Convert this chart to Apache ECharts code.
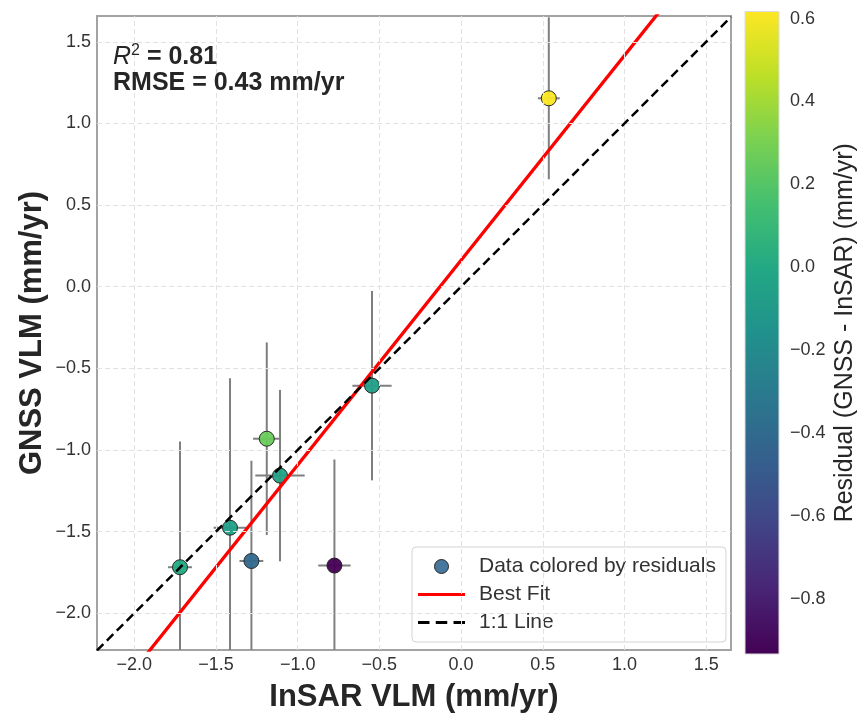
<!DOCTYPE html>
<html>
<head>
<meta charset="utf-8">
<script src="https://cdn.jsdelivr.net/npm/echarts@6/dist/echarts.min.js"></script>
<style>
  html, body { margin: 0; padding: 0; background: #fff; }
  #chart { width: 861px; height: 717px; }
</style>
</head>
<body>
<div id="chart"></div>
<script>
// station values (mm/yr)
const insar    = [-1.72, -1.414, -1.283, -1.189, -1.108, -0.775, -0.545, 0.537];
const gnss     = [-1.718, -1.476, -1.68, -0.931, -1.157, -1.708, -0.606, 1.154];
const insarErr = [0.073, 0.10, 0.073, 0.084, 0.151, 0.099, 0.12, 0.067];
const gnssErr  = [0.77, 0.915, 0.614, 0.59, 0.525, 0.65, 0.58, 0.496];

// best fit line + stats shown on the plot
const fitSlope = 1.254;
const fitIntercept = 0.162;
const r2Text = '0.81';
const rmseText = '0.43';

const xTicks = [-2.0, -1.5, -1.0, -0.5, 0.0, 0.5, 1.0, 1.5];
const yTicks = [-2.0, -1.5, -1.0, -0.5, 0.0, 0.5, 1.0, 1.5];
const cbTicks = [-0.8, -0.6, -0.4, -0.2, 0.0, 0.2, 0.4, 0.6];

const xMin = -2.228, xMax = 1.652;
const yMin = -2.225, yMax = 1.658;

const viridis = ['#440154', '#482475', '#414487', '#355f8d', '#2a788e', '#21918c',
                 '#22a884', '#44bf70', '#7ad151', '#bddf26', '#fde725'];

// residual = GNSS - InSAR
const residual = gnss.map((g, i) => g - insar[i]);
const cbMin = Math.min(...residual);
const cbMax = Math.max(...residual);

const fmt = v => (v < 0 ? '\u2212' : '') + Math.abs(v).toFixed(1);

let chart = echarts.init(document.getElementById('chart'));

let pts = insar.map((x, i) => [x, gnss[i], residual[i]]);
let errs = insar.map((x, i) => [x, gnss[i], insarErr[i], gnssErr[i]]);

let option = {
    animation: false,
    textStyle: { fontFamily: 'Liberation Sans' },
    grid: [
        { left: 97, top: 16, width: 634, height: 634, outerBoundsMode: 'none', show: true, borderColor: '#a3a3a3', borderWidth: 2, backgroundColor: '#fff' },
        { left: 745, top: 11.5, width: 34, height: 642.5, outerBoundsMode: 'none' },
    ],
    xAxis: [
        {
            type: 'value', min: xMin, max: xMax, gridIndex: 0,
            axisLine: { show: false }, axisTick: { show: false }, splitLine: { show: false },
            axisLabel: { customValues: xTicks, formatter: fmt, fontSize: 18, color: '#333', margin: 6 },
            name: 'InSAR VLM (mm/yr)', nameLocation: 'middle', nameGap: 32,
            nameTextStyle: { fontSize: 31, fontWeight: 'bold', color: '#262626' },
        },
        { type: 'value', min: 0, max: 1, gridIndex: 1, show: false },
    ],
    yAxis: [
        {
            type: 'value', min: yMin, max: yMax, gridIndex: 0,
            axisLine: { show: false }, axisTick: { show: false }, splitLine: { show: false },
            axisLabel: { customValues: yTicks, formatter: fmt, fontSize: 18, color: '#333', margin: 6 },
            name: 'GNSS VLM (mm/yr)', nameLocation: 'middle', nameGap: 49, nameRotate: 90, nameMoveOverlap: false,
            nameTextStyle: { fontSize: 31, fontWeight: 'bold', color: '#262626' },
        },
        {
            type: 'value', min: cbMin, max: cbMax, gridIndex: 1, position: 'right',
            axisLine: { show: false }, axisTick: { show: false }, splitLine: { show: false },
            axisLabel: { customValues: cbTicks, formatter: fmt, fontSize: 18, color: '#333', margin: 11 },
            name: 'Residual (GNSS - InSAR) (mm/yr)', nameLocation: 'middle', nameGap: 54, nameRotate: 90,
            nameTextStyle: { fontSize: 25, color: '#262626' },
        },
    ],
    visualMap: {
        show: false, seriesIndex: 2, dimension: 2, min: cbMin, max: cbMax,
        inRange: { color: viridis },
    },
    legend: {
        orient: 'vertical', left: 412, top: 547,
        data: [
            { name: 'Data colored by residuals', icon: 'circle', itemStyle: { color: '#3e7198', borderColor: '#222', borderWidth: 1 } },
            { name: 'Best Fit', icon: 'path://M0,0 H47 V3.2 H0 Z', itemStyle: { color: '#ff0000' } },
            { name: '1:1 Line', icon: 'path://M0,0 H11 V3 H0 Z M17,0 H28 V3 H17 Z M34,0 H45 V3 H34 Z', itemStyle: { color: '#000' } },
        ],
        itemWidth: 47, itemHeight: 14, itemGap: 7,
        textStyle: { fontSize: 21, color: '#333', padding: [0, 0, 0, 9] },
        backgroundColor: '#fff', borderColor: '#d3d3d3', borderWidth: 1, borderRadius: 4,
        padding: [9, 10, 9, 6],
    },
    graphic: [
        {
            type: 'text', left: 113, top: 43, z: 100,
            style: {
                text: '{i|R}{s|2}{b| = ' + r2Text + '}',
                rich: {
                    i: { fontSize: 25, fontStyle: 'italic', fill: '#262626', lineHeight: 28, fontFamily: 'Liberation Sans' },
                    s: { fontSize: 16, fill: '#262626', verticalAlign: 'top', lineHeight: 16, fontFamily: 'Liberation Sans' },
                    b: { fontSize: 25, fontWeight: 'bold', fill: '#262626', lineHeight: 28, fontFamily: 'Liberation Sans' },
                },
            },
        },
        {
            type: 'text', left: 113, top: 71, z: 100,
            style: { text: 'RMSE = ' + rmseText + ' mm/yr', fontSize: 25, fontWeight: 'bold', fill: '#262626', fontFamily: 'Liberation Sans' },
        },
    ],
    series: [
        {
            // dashed grid lines
            name: 'grid', type: 'line', data: [], silent: true, z: 0,
            markLine: {
                silent: true, symbol: 'none', label: { show: false },
                lineStyle: { color: '#e2e2e2', type: [5, 3], width: 1 },
                data: xTicks.map(v => ({ xAxis: v })).concat(yTicks.map(v => ({ yAxis: v }))),
            },
        },
        {
            name: 'errors', type: 'custom', clip: true, z: 2, silent: true,
            renderItem: (params, api) => {
                let x = api.value(0), y = api.value(1), ex = api.value(2), ey = api.value(3);
                let h0 = api.coord([x - ex, y]), h1 = api.coord([x + ex, y]);
                let v0 = api.coord([x, y - ey]), v1 = api.coord([x, y + ey]);
                let st = { stroke: '#7f7f7f', lineWidth: 2 };
                return {
                    type: 'group',
                    children: [
                        { type: 'line', shape: { x1: h0[0], y1: h0[1], x2: h1[0], y2: h1[1] }, style: st },
                        { type: 'line', shape: { x1: v0[0], y1: v0[1], x2: v1[0], y2: v1[1] }, style: st },
                    ],
                };
            },
            data: errs,
        },
        {
            name: 'Data colored by residuals', type: 'scatter', z: 3,
            symbolSize: 15,
            itemStyle: { borderColor: '#222', borderWidth: 1, opacity: 0.95 },
            data: pts,
        },
        {
            name: 'Best Fit', type: 'line', z: 4, symbol: 'none', showSymbol: false,
            lineStyle: { color: '#ff0000', width: 3.3 },
            itemStyle: { color: '#ff0000' },
            data: [[xMin, fitSlope * xMin + fitIntercept], [xMax, fitSlope * xMax + fitIntercept]],
        },
        {
            name: '1:1 Line', type: 'line', z: 5, symbol: 'none', showSymbol: false,
            lineStyle: { color: '#000', width: 2.5, type: [9, 5] },
            itemStyle: { color: '#000' },
            data: [[xMin, xMin], [xMax, xMax]],
        },
        {
            // colorbar
            name: 'colorbar', type: 'custom', xAxisIndex: 1, yAxisIndex: 1, silent: true,
            renderItem: (params, api) => {
                let p0 = api.coord([0, cbMax]);
                let p1 = api.coord([1, cbMin]);
                return {
                    type: 'rect',
                    shape: { x: p0[0], y: p0[1], width: p1[0] - p0[0], height: p1[1] - p0[1] },
                    style: {
                        fill: new echarts.graphic.LinearGradient(0, 1, 0, 0,
                            viridis.map((c, i) => ({ offset: i / (viridis.length - 1), color: c }))),
                        stroke: '#dcdcdc', lineWidth: 1,
                    },
                };
            },
            data: [[0.5, 0]],
        },
    ],
};

chart.setOption(option);
</script>
</body>
</html>
